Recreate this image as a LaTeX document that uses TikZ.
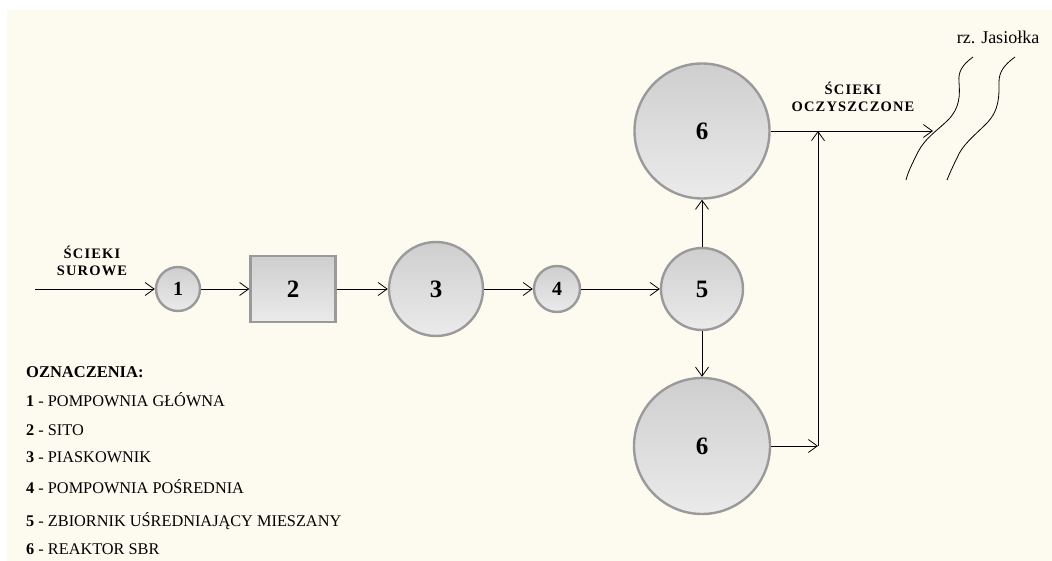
\documentclass[tikz,border=0pt]{standalone}
\usepackage{fontspec}
\setmainfont{Liberation Serif}
\usetikzlibrary{arrows.meta}
\definecolor{cream}{HTML}{FDFBF0}
\definecolor{rim}{HTML}{9A9A9A}
\begin{document}
\begin{tikzpicture}[x=1pt,y=-1pt,
  unit/.style={draw=rim,line width=2.4pt,top color=black!19,bottom color=black!8,inner sep=0pt,font=\bfseries\fontsize{25}{25}\selectfont},
  disc/.style={unit,circle,minimum size=#1},
  smalldisc/.style={unit,circle,minimum size=#1,font=\bfseries\fontsize{20}{20}\selectfont},
  flow/.style={line width=0.8pt,-{Straight Barb[length=9pt,width=13pt,line width=0.8pt]}},
  lbl/.style={font=\bfseries\fontsize{14.5}{17}\selectfont\addfontfeature{LetterSpace=8},align=center},
  leg/.style={anchor=west,inner sep=0pt,font=\fontsize{16.3}{16}\selectfont},
  river/.style={line width=0.8pt}]
\useasboundingbox (0,0) rectangle (1052,561);
\fill[white] (0,0) rectangle (1052,561);
\fill[cream] (7,10) rectangle (1052,561);

% units
\node[smalldisc=44pt] (c1) at (178,289) {1};
\node[unit,rectangle,minimum width=85pt,minimum height=66pt] (b2) at (293,289) {2};
\node[disc=94pt] (c3) at (436,289) {3};
\node[smalldisc=46pt] (c4) at (557,289) {4};
\node[disc=82pt] (c5) at (702,289) {5};
\node[disc=135pt] (c6a) at (702,131) {6};
\node[disc=136pt] (c6b) at (702,446) {6};

% coordinates
\coordinate (in) at (35,289);
\coordinate (out) at (933,131);
\coordinate (j) at (818,446);
\coordinate (jt) at (818,131);

% connectors
\draw[flow] (in) -- (c1.west);
\draw[flow] (c1.east) -- (b2.west);
\draw[flow] (b2.east) -- (c3.west);
\draw[flow] (c3.east) -- (c4.west);
\draw[flow] (c4.east) -- (c5.west);
\draw[flow] (c5.north) -- (c6a.south);
\draw[flow] (c5.south) -- (c6b.north);
\draw[flow] (c6a.east) -- (out);
\draw[flow] (c6b.east) -- (j);
\draw[flow] (j) -- (jt);

% river banks
\draw[river] (973,57) .. controls (962,65) and (958,72) .. (959,82)
  .. controls (960,95) and (960,108) .. (948,120)
  .. controls (938,130) and (925,138) .. (918,152)
  .. controls (912,164) and (908,172) .. (906,180);
\draw[river] (1015,57) .. controls (1004,65) and (999,72) .. (999,82)
  .. controls (999,95) and (1000,110) .. (986,124)
  .. controls (975,135) and (962,145) .. (957,158)
  .. controls (952,168) and (949,175) .. (947,180);

% labels
\node[lbl] (lin) at (92,261) {ŚCIEKI\\SUROWE};
\node[lbl] (lout) at (853,97) {ŚCIEKI\\OCZYSZCZONE};
\node[font=\fontsize{18}{18}\selectfont] (rz) at (998,37) {rz. Jasiołka};

% legend
\node[leg,font=\bfseries\fontsize{16.5}{16}\selectfont] (l0) at (26,372) {OZNACZENIA:};
\node[leg] (l1) at (26,400) {\textbf{1} - POMPOWNIA GŁÓWNA};
\node[leg] (l2) at (26,430) {\textbf{2} - SITO};
\node[leg] (l3) at (26,457) {\textbf{3} - PIASKOWNIK};
\node[leg] (l4) at (26,487) {\textbf{4} - POMPOWNIA POŚREDNIA};
\node[leg] (l5) at (26,521) {\textbf{5} - ZBIORNIK UŚREDNIAJĄCY MIESZANY};
\node[leg] (l6) at (26,549) {\textbf{6} - REAKTOR SBR};
\end{tikzpicture}
\end{document}
